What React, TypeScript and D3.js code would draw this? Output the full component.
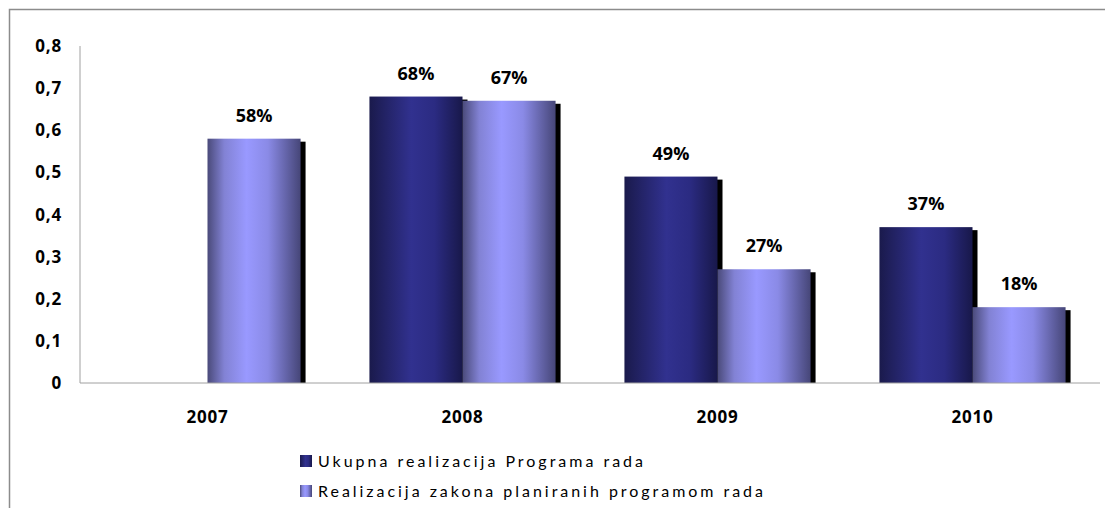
import React from "react";
import * as d3 from "d3";

const years = ["2007", "2008", "2009", "2010"];
const ukupna = [0, 0.68, 0.49, 0.37];
const zakona = [0.58, 0.67, 0.27, 0.18];
const seriesNames = [
  "Ukupna realizacija Programa rada",
  "Realizacija zakona planiranih programom rada",
];
const yTicks = [0, 0.1, 0.2, 0.3, 0.4, 0.5, 0.6, 0.7, 0.8];

const width = 1105;
const height = 508;
const margin = { top: 46, right: 5, bottom: 125, left: 80 };
const font = "'Open Sans', Lato, sans-serif";

function App() {
  const x = d3
    .scaleBand()
    .domain(years)
    .range([margin.left, width - margin.right]);
  const inner = d3
    .scaleBand()
    .domain(["a", "b"])
    .range([0, x.bandwidth()])
    .paddingInner(0)
    .paddingOuter(0.37);
  const y = d3
    .scaleLinear()
    .domain([0, 0.8])
    .range([height - margin.bottom, margin.top]);

  const series = [
    { key: "a", values: ukupna, fill: "url(#gDark)" },
    { key: "b", values: zakona, fill: "url(#gLight)" },
  ];
  const fmt = (v: number) => d3.format(".1f")(v).replace(".", ",").replace(/^0,0$/, "0");

  return (
    <svg
      width={width}
      height={height}
      style={{ position: "absolute", left: 0, top: 0 }}
      fontFamily={font}
    >
      <defs>
        <linearGradient id="gDark" x1="0" x2="1" y1="0" y2="0">
          <stop offset="0" stopColor="#1a1a4c" />
          <stop offset="0.45" stopColor="#31318f" />
          <stop offset="0.7" stopColor="#2b2b82" />
          <stop offset="1" stopColor="#18184a" />
        </linearGradient>
        <linearGradient id="gLight" x1="0" x2="1" y1="0" y2="0">
          <stop offset="0" stopColor="#4a4a7a" />
          <stop offset="0.18" stopColor="#8282d4" />
          <stop offset="0.42" stopColor="#9999ff" />
          <stop offset="0.65" stopColor="#8a8ae6" />
          <stop offset="1" stopColor="#464678" />
        </linearGradient>
      </defs>
      <rect x={0} y={0} width={width} height={height} fill="#fff" />
      <rect
        x={9.5}
        y={9.5}
        width={1200}
        height={600}
        fill="none"
        stroke="#8c8c8c"
        strokeWidth={1.5}
      />

      {yTicks.map((t) => (
        <text
          key={t}
          x={62}
          y={y(t)}
          dy="0.36em"
          textAnchor="end"
          fontSize={17}
          fontWeight="bold"
          letterSpacing={0.8}
        >
          {fmt(t)}
        </text>
      ))}

      {series.map((s) =>
        years.map((yr, i) => {
          const v = s.values[i];
          if (!v) return null;
          const bx = (x(yr) ?? 0) + (inner(s.key) ?? 0);
          const bw = inner.bandwidth();
          return (
            <g key={s.key + yr}>
              <rect x={bx + 5} y={y(v) + 3} width={bw} height={y(0) - y(v) - 3} fill="#000" />
              <rect x={bx} y={y(v)} width={bw} height={y(0) - y(v)} fill={s.fill} />
            </g>
          );
        })
      )}

      {series.map((s) =>
        years.map((yr, i) => {
          const v = s.values[i];
          if (!v) return null;
          const bx = (x(yr) ?? 0) + (inner(s.key) ?? 0) + inner.bandwidth() / 2;
          return (
            <text
              key={"l" + s.key + yr}
              x={bx}
              y={y(v) - 17}
              textAnchor="middle"
              fontSize={18}
              fontWeight="bold"
            >
              {Math.round(v * 100)}%
            </text>
          );
        })
      )}

      <line x1={80} x2={80} y1={margin.top} y2={y(0)} stroke="#a0a0a0" />
      <line x1={80} x2={width - margin.right} y1={y(0)} y2={y(0)} stroke="#a0a0a0" />

      {years.map((yr) => (
        <text
          key={yr}
          x={(x(yr) ?? 0) + x.bandwidth() / 2}
          y={423}
          textAnchor="middle"
          fontSize={17}
          fontWeight="bold"
          letterSpacing={0.8}
        >
          {yr}
        </text>
      ))}

      {seriesNames.map((name, i) => (
        <g key={name} transform={`translate(300,${455 + i * 30})`}>
          <rect width={12} height={12} fill={i === 0 ? "url(#gDark)" : "url(#gLight)"} />
          <text
            x={18}
            y={12}
            fontSize={16}
            fontFamily="Lato, sans-serif"
            textLength={i === 0 ? 325 : 445}
            lengthAdjust="spacing"
          >
            {name}
          </text>
        </g>
      ))}
    </svg>
  );
}

export default App;
